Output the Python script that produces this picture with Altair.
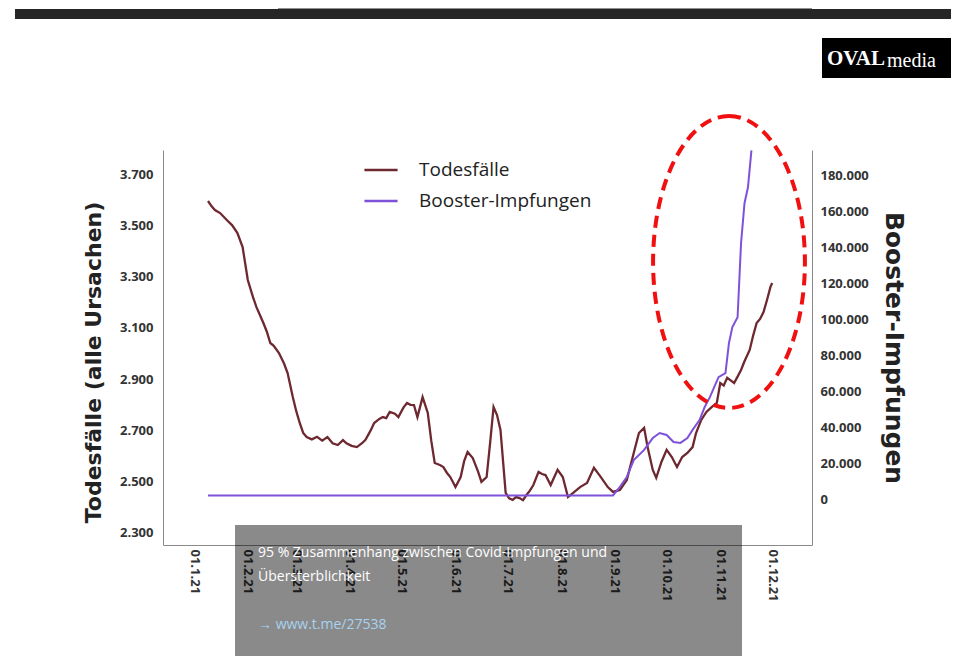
import altair as alt
import pandas as pd

# ---------------- data ----------------
death_dates = [
    "2021-01-09", "2021-01-11", "2021-01-13", "2021-01-16", "2021-01-20", "2021-01-23",
    "2021-01-26", "2021-01-29", "2021-02-01", "2021-02-04", "2021-02-06", "2021-02-08",
    "2021-02-10", "2021-02-12", "2021-02-14", "2021-02-16", "2021-02-19", "2021-02-22",
    "2021-02-24", "2021-02-27", "2021-03-01", "2021-03-03", "2021-03-05", "2021-03-07",
    "2021-03-10", "2021-03-13", "2021-03-16", "2021-03-19", "2021-03-22", "2021-03-25",
    "2021-03-28", "2021-03-30", "2021-04-02", "2021-04-05", "2021-04-08", "2021-04-10",
    "2021-04-13", "2021-04-15", "2021-04-18", "2021-04-20", "2021-04-22", "2021-04-24",
    "2021-04-27", "2021-04-29", "2021-05-02", "2021-05-04", "2021-05-06", "2021-05-08",
    "2021-05-10", "2021-05-13", "2021-05-16", "2021-05-18", "2021-05-20", "2021-05-23",
    "2021-05-25", "2021-05-27", "2021-05-29", "2021-06-01", "2021-06-04", "2021-06-06",
    "2021-06-08", "2021-06-11", "2021-06-14", "2021-06-16", "2021-06-19", "2021-06-21",
    "2021-06-23", "2021-06-25", "2021-06-27", "2021-06-30", "2021-07-02", "2021-07-04",
    "2021-07-06", "2021-07-08", "2021-07-10", "2021-07-12", "2021-07-14", "2021-07-16",
    "2021-07-19", "2021-07-21", "2021-07-23", "2021-07-26", "2021-07-30", "2021-08-02",
    "2021-08-05", "2021-08-08", "2021-08-12", "2021-08-16", "2021-08-20", "2021-08-24",
    "2021-08-28", "2021-08-31", "2021-09-04", "2021-09-08", "2021-09-12", "2021-09-15",
    "2021-09-18", "2021-09-20", "2021-09-23", "2021-09-25", "2021-09-28", "2021-10-01",
    "2021-10-04", "2021-10-07", "2021-10-10", "2021-10-13", "2021-10-16", "2021-10-18",
    "2021-10-21", "2021-10-24", "2021-10-27", "2021-10-30", "2021-11-01", "2021-11-03",
    "2021-11-05", "2021-11-07", "2021-11-09", "2021-11-11", "2021-11-13", "2021-11-15",
    "2021-11-18", "2021-11-20", "2021-11-22", "2021-11-24", "2021-11-26", "2021-11-28",
    "2021-11-30", "2021-12-01",
]
death_values = [
    3595, 3575, 3560, 3548, 3520, 3500,
    3470, 3415, 3287, 3220, 3181, 3150,
    3119, 3085, 3041, 3030, 3002, 2960,
    2924, 2830, 2775, 2729, 2690, 2674,
    2665, 2675, 2660, 2674, 2650, 2643,
    2662, 2650, 2640, 2635, 2650, 2663,
    2700, 2729, 2745, 2752, 2748, 2772,
    2765, 2752, 2790, 2807, 2800, 2799,
    2752, 2830, 2768, 2660, 2573, 2565,
    2557, 2535, 2518, 2479, 2518, 2580,
    2616, 2592, 2540, 2499, 2518, 2650,
    2791, 2760, 2702, 2456, 2435, 2429,
    2440, 2436, 2428, 2448, 2465, 2487,
    2538, 2530, 2526, 2487, 2546, 2518,
    2440, 2456, 2479, 2495, 2554, 2518,
    2479, 2460, 2468, 2507, 2612, 2690,
    2710, 2635, 2546, 2515, 2577, 2624,
    2596, 2557, 2596, 2612, 2635, 2690,
    2741, 2772, 2791, 2807, 2885, 2875,
    2905, 2895, 2885, 2910, 2936, 2970,
    3014, 3070, 3119, 3135, 3162, 3209,
    3260, 3275,
]

booster_dates = [
    "2021-01-09", "2021-08-31", "2021-09-04", "2021-09-08", "2021-09-12", "2021-09-18",
    "2021-09-23", "2021-09-27", "2021-10-01", "2021-10-05", "2021-10-09", "2021-10-13",
    "2021-10-16", "2021-10-20", "2021-10-23", "2021-10-26", "2021-10-31", "2021-11-04",
    "2021-11-06", "2021-11-08", "2021-11-11", "2021-11-13", "2021-11-15", "2021-11-17",
    "2021-11-19",
]
booster_values = [
    2500, 2500, 7200, 12700, 22100, 27700,
    34300, 37100, 36000, 32100, 31600, 34300,
    38800, 44300, 51500, 57000, 68100, 70300,
    86900, 95800, 101300, 142300, 164500, 173300,
    193800,
]

series_names = ["Todesfälle", "Booster-Impfungen"]
series_colors = ["#6e2830", "#7d52d9"]

left_ticks = [2300, 2500, 2700, 2900, 3100, 3300, 3500, 3700]
right_ticks = [0, 20000, 40000, 60000, 80000, 100000, 120000, 140000, 160000, 180000]
month_ticks = list(range(1, 13))

caption_lines = ["95 % Zusammenhang zwischen Covid-Impfungen und", "Übersterblichkeit"]
caption_link = "→ www.t.me/27538"

# ---------------- tables ----------------
deaths = pd.DataFrame({"date": death_dates, "value": death_values, "series": series_names[0]})
boosters = pd.DataFrame({"date": booster_dates, "value": booster_values, "series": series_names[1]})
one = pd.DataFrame({"k": [0]})

FONT = "Open Sans"
TITLE_FONT = "DejaVu Sans"
LABEL_EXPR = "replace(format(datum.value, ','), ',', '.')"

x_enc = alt.X(
    "date:T",
    scale=alt.Scale(
        type="utc",
        domain=[alt.DateTime(year=2020, month=12, date=14, utc=True),
                alt.DateTime(year=2021, month=12, date=24, utc=True)],
    ),
    axis=alt.Axis(
        values=[alt.DateTime(year=2021, month=m, date=1, utc=True) for m in month_ticks],
        labelExpr="utcFormat(datum.value, '%d.%-m.%y')",
        labelAngle=90, labelFontSize=13, labelFontWeight="bold", labelColor="#333333",
        labelFont=FONT, labelPadding=4, ticks=False, domainColor="#8a8a8a",
        title=None, grid=False,
    ),
)

color_enc = alt.Color(
    "series:N",
    scale=alt.Scale(domain=series_names, range=series_colors),
    legend=alt.Legend(
        title=None, orient="none", legendX=200, legendY=9, direction="vertical",
        symbolType="stroke", symbolSize=1100, symbolStrokeWidth=2.5, clipHeight=22,
        labelFontSize=19, labelFont=FONT, labelColor="#222222", labelOffset=20,
        labelLimit=0, rowPadding=9, padding=0,
    ),
)

death_line = alt.Chart(deaths).mark_line(strokeWidth=2.3).encode(
    x=x_enc,
    y=alt.Y(
        "value:Q",
        scale=alt.Scale(domain=[2253, 3794], nice=False, zero=False),
        axis=alt.Axis(
            orient="left", values=left_ticks, labelExpr=LABEL_EXPR, ticks=False,
            domainColor="#8a8a8a", labelFont=FONT, labelFontSize=13, labelFontWeight="bold",
            labelColor="#333333", labelPadding=10, grid=False,
            title="Todesfälle (alle Ursachen)", titleFont=TITLE_FONT, titleFontSize=22,
            titleFontWeight="bold", titleColor="#222222", titlePadding=14, titleY=212,
        ),
    ),
    color=color_enc,
)

booster_line = alt.Chart(boosters).mark_line(strokeWidth=2).encode(
    x=x_enc,
    y=alt.Y(
        "value:Q",
        scale=alt.Scale(domain=[-25000, 194000], nice=False, zero=False),
        axis=alt.Axis(
            orient="right", values=right_ticks, labelExpr=LABEL_EXPR, ticks=False,
            domainColor="#8a8a8a", labelFont=FONT, labelFontSize=13, labelFontWeight="bold",
            labelColor="#333333", labelPadding=8, grid=False,
            title="Booster-Impfungen", titleFont=TITLE_FONT, titleFontSize=25,
            titleFontWeight="bold", titleColor="#222222", titlePadding=12,
        ),
    ),
    color=color_enc,
)

# ---------------- overlays seen in the screenshot ----------------
ellipse = alt.Chart(one).mark_point(
    shape="M 0 -1 A 0.52 1 0 1 1 0 1 A 0.52 1 0 1 1 0 -1 Z",
    filled=False, stroke="#f01010", strokeWidth=4, strokeDash=[12, 7], opacity=1,
).encode(x=alt.value(566), y=alt.value(112), size=alt.value(85264))

grey_box = alt.Chart(one).mark_rect(color="#000000", opacity=0.46).encode(
    x=alt.value(72), x2=alt.value(579), y=alt.value(375), y2=alt.value(520)
)
cap1 = alt.Chart(one).mark_text(align="left", baseline="middle", color="white",
                                fontSize=14, font=FONT).encode(
    x=alt.value(95), y=alt.value(403), text=alt.value(caption_lines[0]))
cap2 = alt.Chart(one).mark_text(align="left", baseline="middle", color="white",
                                fontSize=14, font=FONT).encode(
    x=alt.value(95), y=alt.value(427), text=alt.value(caption_lines[1]))
cap3 = alt.Chart(one).mark_text(align="left", baseline="middle", color="#a8d2f0",
                                fontSize=14, font=FONT).encode(
    x=alt.value(95), y=alt.value(475), text=alt.value(caption_link))

logo_bg = alt.Chart(one).mark_rect(color="#000000").encode(
    x=alt.value(659), x2=alt.value(792), y=alt.value(-112), y2=alt.value(-72))
logo1 = alt.Chart(one).mark_text(align="left", baseline="middle", color="white",
                                 fontSize=21, font="Liberation Serif", fontWeight="bold").encode(
    x=alt.value(664), y=alt.value(-91), text=alt.value("OVAL"))
logo2 = alt.Chart(one).mark_text(align="left", baseline="middle", color="white",
                                 fontSize=20, font="Liberation Serif").encode(
    x=alt.value(724), y=alt.value(-89), text=alt.value("media"))

top_bar = alt.Chart(one).mark_rect(color="#262626").encode(
    x=alt.value(-148), x2=alt.value(800), y=alt.value(-141), y2=alt.value(-131))
top_grey = alt.Chart(one).mark_rect(color="#8f8f8f").encode(
    x=alt.value(115), x2=alt.value(649), y=alt.value(-160), y2=alt.value(-141))

chart = alt.layer(
    death_line, booster_line, ellipse, grey_box, cap1, cap2, cap3,
    logo_bg, logo1, logo2, top_bar, top_grey,
).resolve_scale(y="independent").properties(
    width=649, height=395,
    autosize=alt.AutoSizeParams(type="none"),
    padding={"left": 155, "top": 142, "right": 139, "bottom": 111},
    background="white",
).configure_view(stroke=None)

chart.save("out.html", embed_options={"renderer": "svg", "actions": False})
